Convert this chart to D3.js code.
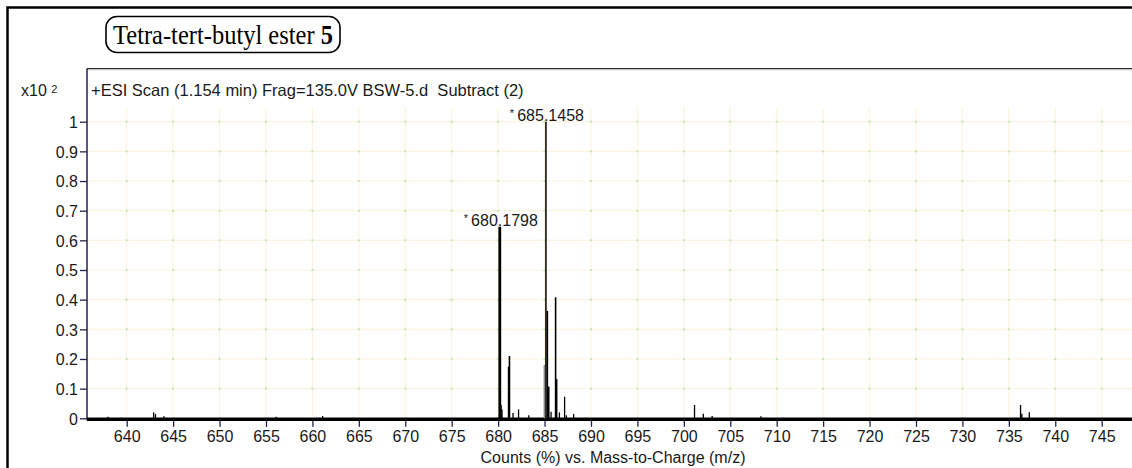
<!DOCTYPE html>
<html>
<head>
<meta charset="utf-8">
<script src="https://cdn.jsdelivr.net/npm/d3@7"></script>
<style>
  html, body { margin: 0; padding: 0; background: #fff; }
  svg { display: block; }
  .ax { font-family: "Liberation Sans", Arial, sans-serif; fill: #1a1a1a; white-space: pre; }
</style>
</head>
<body>
<svg id="chart" width="1132" height="468"></svg>
<script>
// Mass spectrum: m/z positions and relative abundance (x10^2 counts, normalised)
const peakMz = [638.0, 642.9, 643.1, 644.0, 656.1, 661.1,
  680.18, 680.32, 680.42, 681.13, 681.22, 681.6, 682.2, 683.3,
  684.98, 685.1458, 685.3, 685.45, 685.7, 686.19, 686.3, 686.6,
  687.16, 687.35, 688.13, 701.15, 702.1, 703.05, 708.3,
  736.26, 736.4, 737.2];
const peakVal = [0.005, 0.02, 0.014, 0.007, 0.005, 0.008,
  0.646, 0.045, 0.03, 0.174, 0.21, 0.018, 0.03, 0.01,
  0.18, 1.0, 0.362, 0.107, 0.022, 0.408, 0.132, 0.02,
  0.073, 0.01, 0.015, 0.045, 0.015, 0.008, 0.007,
  0.045, 0.015, 0.02];

// Annotated peaks
const labelMz = [680.1798, 685.1458];
const labelVal = [0.646, 1.0];
const labelText = ["680.1798", "685.1458"];

// Axis ticks
const xTicks = [640, 645, 650, 655, 660, 665, 670, 675, 680, 685, 690, 695,
  700, 705, 710, 715, 720, 725, 730, 735, 740, 745];
const yTicks = [0, 0.1, 0.2, 0.3, 0.4, 0.5, 0.6, 0.7, 0.8, 0.9, 1];
const yTickLabels = ["0", "0.1", "0.2", "0.3", "0.4", "0.5", "0.6", "0.7", "0.8", "0.9", "1"];

const titleText = "Tetra-tert-butyl ester ";
const titleBold = "5";
const headerText = "+ESI Scan (1.154 min) Frag=135.0V BSW-5.d  Subtract (2)";
const xTitle = "Counts (%) vs. Mass-to-Charge (m/z)";

const svg = d3.select("#chart");
const W = 1132, H = 468;
const FS = "16px";

const x = d3.scaleLinear().domain([640, 745]).range([126.7, 1101.7]);
const y = d3.scaleLinear().domain([0, 1]).range([418.3, 121.7]);

const axisX = 87, frameTop = 68.5, base = y(0);

// outer frame (left and top edges visible)
svg.append("path")
  .attr("d", `M7.5,${H} L7.5,7.5 L${W},7.5`)
  .attr("fill", "none").attr("stroke", "#000").attr("stroke-width", 2.5);

// title box
const tg = svg.append("g");
tg.append("rect").attr("x", 106).attr("y", 16.5).attr("width", 234).attr("height", 36)
  .attr("rx", 11).attr("ry", 11)
  .attr("fill", "#fff").attr("stroke", "#000").attr("stroke-width", 1.6);
const tt = tg.append("text")
  .attr("transform", "translate(223,44) scale(1,1.12)")
  .attr("text-anchor", "middle")
  .style("font-family", "'Liberation Serif', 'Times New Roman', serif")
  .style("font-size", "24.5px").attr("fill", "#000");
tt.append("tspan").text(titleText);
tt.append("tspan").style("font-weight", "bold").text(titleBold);

// grid
const grid = svg.append("g");
grid.selectAll("line.gv").data(xTicks).join("line")
  .attr("x1", d => x(d)).attr("x2", d => x(d))
  .attr("y1", 107).attr("y2", base)
  .attr("stroke", "#fcf4dc").attr("stroke-width", 1.2);
grid.selectAll("line.gh").data(yTicks.filter(d => d > 0)).join("line")
  .attr("x1", axisX).attr("x2", W)
  .attr("y1", d => y(d)).attr("y2", d => y(d))
  .attr("stroke", "#fcf4dc").attr("stroke-width", 1.2);
// small marks at grid intersections
const crosses = [];
xTicks.forEach(a => yTicks.filter(d => d > 0).forEach(b => crosses.push([a, b])));
grid.selectAll("rect.gx").data(crosses).join("rect")
  .attr("x", d => x(d[0]) - 1).attr("y", d => y(d[1]) - 1)
  .attr("width", 2).attr("height", 2).attr("fill", "#c4e2bc");

// plot frame top line
svg.append("line").attr("x1", axisX).attr("x2", W).attr("y1", frameTop).attr("y2", frameTop)
  .attr("stroke", "#2e2e2e").attr("stroke-width", 1.2);
svg.append("line").attr("x1", axisX).attr("x2", W).attr("y1", frameTop + 1.2).attr("y2", frameTop + 1.2)
  .attr("stroke", "#a0a0a0").attr("stroke-width", 0.8);

// header
svg.append("text").attr("class", "ax")
  .attr("x", 91).attr("y", 95.5)
  .style("font-size", "16.5px").text(headerText);

// y axis
const yAxis = d3.axisLeft(y).tickValues(yTicks).tickSize(7).tickPadding(2)
  .tickFormat((d, i) => yTickLabels[i]);
const gy = svg.append("g").attr("transform", `translate(${axisX},0)`).call(yAxis);
gy.select(".domain").remove();
gy.selectAll(".tick line").attr("stroke", "#22224a").attr("stroke-width", 1.3);
gy.selectAll(".tick text").attr("class", "ax").style("font-size", FS)
  .attr("fill", "#1a1a1a").attr("dy", "0.36em");
svg.append("line").attr("x1", axisX).attr("x2", axisX).attr("y1", frameTop).attr("y2", base + 2)
  .attr("stroke", "#22224a").attr("stroke-width", 1.5);

// exponent label
const ex = svg.append("text").attr("class", "ax").attr("x", 21).attr("y", 96)
  .style("font-size", FS);
ex.append("tspan").text("x10 ");
ex.append("tspan").attr("dy", -3).style("font-size", "11px").text("2");

// x axis
const xAxis = d3.axisBottom(x).tickValues(xTicks).tickSize(6).tickPadding(4)
  .tickFormat(d3.format("d"));
const gx = svg.append("g").attr("transform", `translate(0,${base + 2.5})`).call(xAxis);
gx.select(".domain").remove();
gx.selectAll(".tick line").attr("stroke", "#22224a").attr("stroke-width", 1.3);
gx.selectAll(".tick text").attr("class", "ax").style("font-size", FS).attr("fill", "#1a1a1a");

svg.append("text").attr("class", "ax")
  .attr("x", 613).attr("y", 463).attr("text-anchor", "middle")
  .style("font-size", FS).text(xTitle);

// spectrum baseline (thick trace at zero)
svg.append("line").attr("x1", axisX).attr("x2", W).attr("y1", base + 1).attr("y2", base + 1)
  .attr("stroke", "#000").attr("stroke-width", 3.4);

// peaks
const peaks = peakMz.map((m, i) => ({ m, v: peakVal[i] }));
const widthFor = d => d.m === 680.18 ? 2.8 : d.m === 685.1458 ? 1.8 : d.v > 0.1 ? 1.6 : 1.3;
const colorFor = d => d.m === 684.98 ? "#8a8a8a" : d.m === 685.1458 ? "#2a2a2a" : "#000";
svg.append("g").selectAll("line").data(peaks).join("line")
  .attr("x1", d => x(d.m)).attr("x2", d => x(d.m))
  .attr("y1", base).attr("y2", d => y(d.v))
  .attr("stroke", colorFor).attr("stroke-width", widthFor);

// peak annotations
const ann = svg.append("g").selectAll("text").data(labelMz).join("text")
  .attr("class", "ax").attr("text-anchor", "middle")
  .attr("x", d => x(d) + 1).attr("y", (d, i) => y(labelVal[i]) - 1)
  .style("font-size", FS);
ann.append("tspan").attr("dy", -4).style("font-size", "11px").text("* ");
ann.append("tspan").attr("dy", 4).text((d, i) => labelText[i]);
</script>
</body>
</html>
